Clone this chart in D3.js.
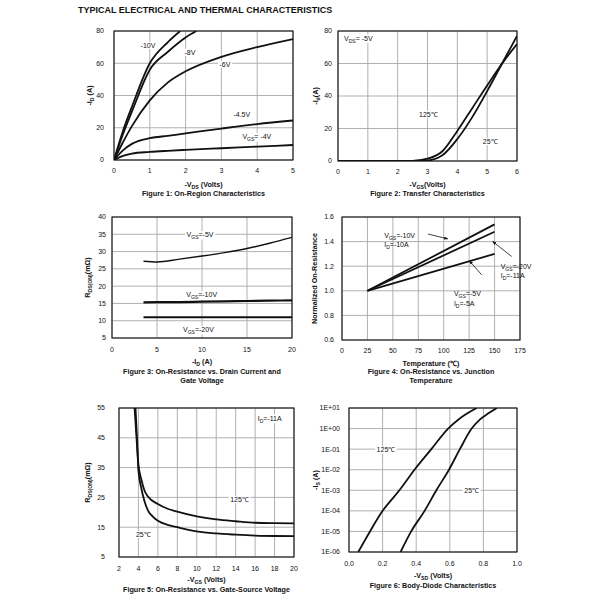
<!DOCTYPE html>
<html>
<head>
<meta charset="utf-8">
<script src="https://cdn.jsdelivr.net/npm/d3@7"></script>
<style>
  body { margin: 0; background: #fff; }
  text { font-family: "Liberation Sans", Arial, sans-serif; fill: #111; }
</style>
</head>
<body>
<svg id="chart" width="600" height="600"></svg>
<script>
// ---- data ----

// Figure 1: -ID vs -VDS for several gate voltages
var f1Vds10 = [0, 0.25, 0.5, 1, 1.5, 1.85];
var f1Id10 = [0, 18, 33, 60, 73, 80];
var f1Vds8 = [0, 0.25, 0.5, 1, 1.5, 2, 2.3];
var f1Id8 = [0, 16, 30, 56, 67, 76, 80];
var f1Vds = [0, 0.25, 0.5, 1, 1.5, 2, 3, 4, 5];
var f1Id6 = [0, 11, 21, 37, 48, 55, 64, 70, 75];
var f1Id45 = [0, 6, 10, 13.5, 15, 16.5, 19.5, 22.3, 24.5];
var f1Id4 = [0, 2.5, 4, 5, 5.7, 6.3, 7.3, 8.3, 9.3];
var f1Ticks = [0, 1, 2, 3, 4, 5];
var f1YTicks = [0, 20, 40, 60, 80];

// Figure 2: transfer characteristics
var f2Vgs = [0, 1, 2, 2.5, 3, 3.5, 4, 4.5, 5, 5.5, 6];
var f2Id125 = [0, 0, 0, 0.1, 1.4, 6, 18.5, 32.5, 46.5, 60, 72];
var f2Id25 = [0, 0, 0, 0, 0.3, 3.5, 13.5, 27, 43, 60, 77];
var f2Ticks = [0, 1, 2, 3, 4, 5, 6];
var f2YTicks = [0, 20, 40, 60, 80];

// Figure 3: RDS(on) vs drain current
var f3Id = [3.5, 5, 7.5, 10, 12.5, 15, 17.5, 20];
var f3R5 = [27.2, 27.0, 27.8, 28.7, 29.7, 30.9, 32.4, 34.1];
var f3R10 = [15.3, 15.35, 15.4, 15.5, 15.6, 15.7, 15.8, 15.9];
var f3R20 = [11.0, 11.0, 11.0, 11.0, 11.0, 11.0, 11.0, 11.0];
var f3Ticks = [0, 5, 10, 15, 20];
var f3YTicks = [5, 10, 15, 20, 25, 30, 35, 40];

// Figure 4: normalized on-resistance vs temperature
var f4T = [25, 150];
var f4A = [1.0, 1.54];
var f4B = [1.0, 1.48];
var f4C = [1.0, 1.30];
var f4Ticks = [0, 25, 50, 75, 100, 125, 150, 175];
var f4YTicks = [0.6, 0.8, 1.0, 1.2, 1.4, 1.6];

// Figure 5: RDS(on) vs gate-source voltage
var f5V25 = [3.7, 3.85, 4, 4.3, 4.6, 5, 5.5, 6, 7, 8, 10, 12, 14, 16, 18, 20];
var f5R25 = [55, 45, 34, 28, 24, 20.5, 18.5, 17.2, 15.8, 15.0, 13.6, 12.9, 12.5, 12.2, 12.05, 12.0];
var f5V125 = [3.6, 3.8, 4, 4.3, 4.6, 5, 6, 7, 8, 10, 12, 14, 16, 18, 20];
var f5R125 = [55, 45, 36, 31, 27.5, 25.2, 22.8, 21.2, 20.2, 18.6, 17.6, 17.0, 16.5, 16.35, 16.3];
var f5Ticks = [2, 4, 6, 8, 10, 12, 14, 16, 18, 20];
var f5YTicks = [5, 15, 25, 35, 45, 55];

// Figure 6: body diode
var f6V125 = [0.055, 0.125, 0.2, 0.3, 0.39, 0.49, 0.59, 0.65, 0.7, 0.76];
var f6I125 = [1e-6, 1e-5, 1e-4, 1e-3, 1e-2, 1e-1, 1, 2.7, 5.2, 10];
var f6V25 = [0.307, 0.37, 0.45, 0.52, 0.595, 0.66, 0.73, 0.78, 0.83, 0.88];
var f6I25 = [1e-6, 1e-5, 1e-4, 1e-3, 1e-2, 1e-1, 1, 2.8, 5.5, 10];
var f6Ticks = [0, 0.2, 0.4, 0.6, 0.8, 1.0];
var f6YTicks = [1e-6, 1e-5, 1e-4, 1e-3, 1e-2, 1e-1, 1, 10];
var f6YLabels = ["1E-06", "1E-05", "1E-04", "1E-03", "1E-02", "1E-01", "1E+00", "1E+01"];

// ---- drawing ----
var svg = d3.select("#chart");
svg.append("rect").attr("width", 600).attr("height", 600).attr("fill", "#fff");

svg.append("text").attr("x", 78).attr("y", 13)
    .attr("font-size", 9).attr("font-weight", "bold")
    .text("TYPICAL ELECTRICAL AND THERMAL CHARACTERISTICS");

// write text made of plain parts and {sub: "..."} parts
function rich(t, parts) {
    parts.forEach(function(p) {
        if (typeof p === "string") {
            t.append("tspan").text(p);
        } else {
            t.append("tspan").attr("font-size", "0.72em")
                .attr("baseline-shift", "-1.5").text(p.sub);
        }
    });
    return t;
}

function panel(o) {
    var g = svg.append("g");
    var x = d3.scaleLinear().domain(o.xDom).range([o.left, o.right]);
    var y = (o.log ? d3.scaleLog() : d3.scaleLinear())
        .domain(o.yDom).range([o.bottom, o.top]);

    // grid
    g.selectAll(".vg").data(o.xTicks).enter().append("line")
        .attr("x1", function(d) { return x(d); })
        .attr("x2", function(d) { return x(d); })
        .attr("y1", o.top).attr("y2", o.bottom)
        .attr("stroke", "#a8a8a8").attr("stroke-width", 0.9);
    g.selectAll(".hg").data(o.yTicks).enter().append("line")
        .attr("y1", function(d) { return y(d); })
        .attr("y2", function(d) { return y(d); })
        .attr("x1", o.left).attr("x2", o.right)
        .attr("stroke", "#a8a8a8").attr("stroke-width", 0.9);

    // tick labels
    g.selectAll(".xt").data(o.xTicks).enter().append("text")
        .attr("x", function(d) { return x(d); })
        .attr("y", o.xTickY)
        .attr("text-anchor", "middle").attr("font-size", 7)
        .text(o.xFmt || function(d) { return d; });
    g.selectAll(".yt").data(o.yTicks).enter().append("text")
        .attr("x", o.left - o.yGap)
        .attr("y", function(d) { return y(d) + 2.4; })
        .attr("text-anchor", "end").attr("font-size", 7)
        .text(o.yFmt || function(d) { return d; });

    // axis titles
    rich(g.append("text").attr("x", (o.left + o.right) / 2).attr("y", o.xTitleY)
        .attr("text-anchor", "middle").attr("font-size", 7.2).attr("font-weight", "bold"), o.xTitle);
    var cy = (o.top + o.bottom) / 2;
    rich(g.append("text").attr("transform", "translate(" + o.yTitleX + "," + cy + ") rotate(-90)")
        .attr("text-anchor", "middle").attr("font-size", 7.2).attr("font-weight", "bold"), o.yTitle);

    // captions
    o.caption.forEach(function(c, i) {
        g.append("text").attr("x", (o.left + o.right) / 2).attr("y", o.capY + i * 9)
            .attr("text-anchor", "middle").attr("font-size", 7.2).attr("font-weight", "bold")
            .text(c);
    });

    var clip = "clip" + o.id;
    svg.append("clipPath").attr("id", clip).append("rect")
        .attr("x", o.left).attr("y", o.top)
        .attr("width", o.right - o.left).attr("height", o.bottom - o.top);
    var plot = svg.append("g").attr("clip-path", "url(#" + clip + ")");
    var labels = svg.append("g");

    // frame
    svg.append("rect").attr("x", o.left).attr("y", o.top)
        .attr("width", o.right - o.left).attr("height", o.bottom - o.top)
        .attr("fill", "none").attr("stroke", "#111").attr("stroke-width", 1.1);

    return { x: x, y: y, plot: plot, labels: labels };
}

function curve(p, xs, ys, w) {
    var line = d3.line()
        .x(function(d) { return p.x(d[0]); })
        .y(function(d) { return p.y(d[1]); })
        .curve(d3.curveMonotoneX);
    p.plot.append("path").datum(d3.zip(xs, ys)).attr("d", line)
        .attr("fill", "none").attr("stroke", "#111").attr("stroke-width", w || 1.8);
}

function label(p, xv, yv, parts, anchor, bg) {
    var t = rich(p.labels.append("text").attr("x", p.x(xv)).attr("y", p.y(yv) + 2.4)
        .attr("text-anchor", anchor || "middle").attr("font-size", 7), parts);
    if (bg !== false) {
        var b = t.node().getBBox();
        p.labels.insert("rect", "text").attr("x", b.x - 1.5).attr("y", b.y)
            .attr("width", b.width + 3).attr("height", b.height).attr("fill", "#fff");
    }
}

// Figure 1
var p1 = panel({ id: 1, left: 114, right: 293, top: 31, bottom: 160,
    xDom: [0, 5], yDom: [0, 80], xTicks: f1Ticks, yTicks: f1YTicks,
    xTickY: 173, yGap: 10, xTitleY: 186.5, yTitleX: 92,
    xTitle: ["-V", { sub: "DS" }, " (Volts)"], yTitle: ["-I", { sub: "D" }, " (A)"],
    caption: ["Figure 1: On-Region Characteristics"], capY: 195.5 });
curve(p1, f1Vds10, f1Id10);
curve(p1, f1Vds8, f1Id8);
curve(p1, f1Vds, f1Id6);
curve(p1, f1Vds, f1Id45);
curve(p1, f1Vds, f1Id4);
label(p1, 0.95, 71, ["-10V"]);
label(p1, 2.12, 66.8, ["-8V"]);
label(p1, 3.1, 59.3, ["-6V"]);
label(p1, 3.57, 27.9, ["-4.5V"]);
label(p1, 3.99, 14.5, ["V", { sub: "GS" }, "= -4V"]);

// Figure 2
var p2 = panel({ id: 2, left: 338, right: 517, top: 31, bottom: 161,
    xDom: [0, 6], yDom: [0, 80], xTicks: f2Ticks, yTicks: f2YTicks,
    xTickY: 173.5, yGap: 6, xTitleY: 186.5, yTitleX: 318,
    xTitle: ["-V", { sub: "GS" }, "(Volts)"], yTitle: ["-I", { sub: "d" }, "(A)"],
    caption: ["Figure 2: Transfer Characteristics"], capY: 195.5 });
curve(p2, f2Vgs, f2Id125);
curve(p2, f2Vgs, f2Id25);
label(p2, 0.68, 75.5, ["V", { sub: "DS" }, "= -5V"]);
label(p2, 3.03, 28.7, ["125℃"]);
label(p2, 5.1, 11.9, ["25℃"]);

// Figure 3
var p3 = panel({ id: 3, left: 112, right: 292, top: 217, bottom: 338,
    xDom: [0, 20], yDom: [5, 40], xTicks: f3Ticks, yTicks: f3YTicks,
    xTickY: 351.5, yGap: 6, xTitleY: 363.5, yTitleX: 90,
    xTitle: ["-I", { sub: "D" }, " (A)"], yTitle: ["R", { sub: "DS(ON)" }, "(mΩ)"],
    caption: ["Figure 3: On-Resistance vs. Drain Current and", "Gate Voltage"], capY: 374 });
curve(p3, f3Id, f3R5, 1.4);
curve(p3, f3Id, f3R10, 2.2);
curve(p3, f3Id, f3R20, 1.8);
label(p3, 9.78, 34.9, ["V", { sub: "GS" }, "=-5V"]);
label(p3, 9.96, 17.5, ["V", { sub: "GS" }, "=-10V"]);
label(p3, 9.6, 7.4, ["V", { sub: "GS" }, "=-20V"]);

// Figure 4
var p4 = panel({ id: 4, left: 342, right: 520, top: 217, bottom: 340,
    xDom: [0, 175], yDom: [0.6, 1.6], xTicks: f4Ticks, yTicks: f4YTicks,
    xTickY: 353, yGap: 8, xTitleY: 365.5, yTitleX: 317,
    yFmt: d3.format(".1f"),
    xTitle: ["Temperature (℃)"], yTitle: ["Normalized On-Resistance"],
    caption: ["Figure 4: On-Resistance vs. Junction", "Temperature"], capY: 374 });
curve(p4, f4T, f4A);
curve(p4, f4T, f4B);
curve(p4, f4T, f4C);
label(p4, 41.5, 1.445, ["V", { sub: "GS" }, "=-10V"], "start", false);
label(p4, 41.5, 1.375, ["I", { sub: "D" }, "=-10A"], "start", false);
label(p4, 156, 1.2, ["V", { sub: "GS" }, "=-20V"], "start", false);
label(p4, 156, 1.125, ["I", { sub: "D" }, "=-11A"], "start", false);
label(p4, 110, 0.975, ["V", { sub: "GS" }, "=-5V"], "start", false);
label(p4, 110, 0.895, ["I", { sub: "D" }, "=-5A"], "start", false);

var arrows = [[84.5, 1.462, 104, 1.422], [166.8, 1.279, 148.1, 1.401], [137.3, 1.13, 125.2, 1.244]];
svg.append("defs").append("marker").attr("id", "ah")
    .attr("viewBox", "0 0 10 10").attr("refX", 9).attr("refY", 5)
    .attr("markerWidth", 5).attr("markerHeight", 5).attr("orient", "auto")
    .append("path").attr("d", "M0,1 L10,5 L0,9 Z").attr("fill", "#111");
arrows.forEach(function(a) {
    p4.labels.append("line")
        .attr("x1", p4.x(a[0])).attr("y1", p4.y(a[1]))
        .attr("x2", p4.x(a[2])).attr("y2", p4.y(a[3]))
        .attr("stroke", "#111").attr("stroke-width", 0.8)
        .attr("marker-end", "url(#ah)");
});

// Figure 5
var p5 = panel({ id: 5, left: 119, right: 294, top: 408, bottom: 557,
    xDom: [2, 20], yDom: [5, 55], xTicks: f5Ticks, yTicks: f5YTicks,
    xTickY: 570.5, yGap: 14, xTitleY: 582, yTitleX: 90,
    xTitle: ["-V", { sub: "GS" }, " (Volts)"], yTitle: ["R", { sub: "DS(ON)" }, "(mΩ)"],
    caption: ["Figure 5: On-Resistance vs. Gate-Source Voltage"], capY: 591.5 });
curve(p5, f5V25, f5R25);
curve(p5, f5V125, f5R125);
label(p5, 17.5, 51.6, ["I", { sub: "D" }, "=-11A"]);
label(p5, 14.4, 24.2, ["125℃"]);
label(p5, 4.5, 12.5, ["25℃"]);

// Figure 6
var p6 = panel({ id: 6, left: 349, right: 517, top: 408, bottom: 552, log: true,
    xDom: [0, 1], yDom: [1e-6, 10], xTicks: f6Ticks, yTicks: f6YTicks,
    xTickY: 565.5, yGap: 9, xTitleY: 577.5, yTitleX: 318,
    xFmt: d3.format(".1f"), yFmt: function(d, i) { return f6YLabels[i]; },
    xTitle: ["-V", { sub: "SD" }, " (Volts)"], yTitle: ["-I", { sub: "S" }, " (A)"],
    caption: ["Figure 6: Body-Diode Characteristics"], capY: 587.5 });
curve(p6, f6V125, f6I125);
curve(p6, f6V25, f6I25);
label(p6, 0.22, 0.09, ["125℃"]);
label(p6, 0.73, 1e-3, ["25℃"]);
</script>
</body>
</html>
